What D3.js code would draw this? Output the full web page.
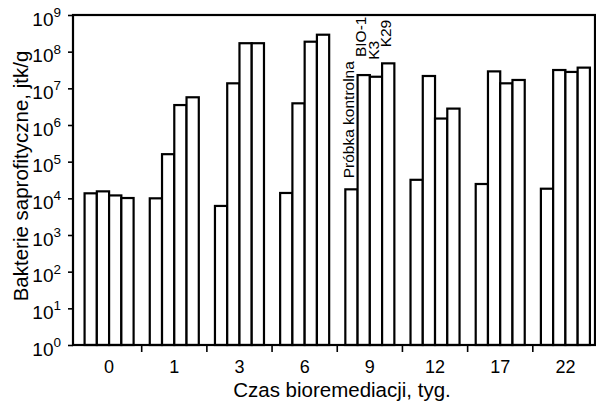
<!DOCTYPE html>
<html>
<head>
<meta charset="utf-8">
<script src="https://cdn.jsdelivr.net/npm/d3@7.9.0/dist/d3.min.js"></script>
<style>
  body { margin: 0; background: #fff; }
  svg { display: block; font-family: "Liberation Sans", Arial, sans-serif; }
  .axis path { display: none; }
  .axis line { stroke: #000; stroke-width: 1.6; }
  .axis text { fill: #000; }
</style>
</head>
<body>
<svg id="chart" width="596" height="406"></svg>
<script>
// weeks of bioremediation
const weeks = ['0', '1', '3', '6', '9', '12', '17', '22'];
const series = ['Próbka kontrolna', 'BIO-1', 'K3', 'K29'];

// bacteria counts, cfu/g
const kontrolna = [1.37e4, 1.0e4, 6.2e3, 1.4e4, 1.76e4, 3.2e4, 2.46e4, 1.83e4];
const bio1      = [1.55e4, 1.6e5, 1.37e7, 3.9e6, 2.3e7, 2.17e7, 2.9e7, 3.16e7];
const k3        = [1.2e4, 3.5e6, 1.7e8, 1.87e8, 2.07e7, 1.5e6, 1.37e7, 2.8e7];
const k29       = [1.02e4, 5.7e6, 1.7e8, 2.9e8, 4.8e7, 2.8e6, 1.69e7, 3.67e7];

const yTicks = [1, 1e1, 1e2, 1e3, 1e4, 1e5, 1e6, 1e7, 1e8, 1e9];
const labelWeek = '9'; // group where series names are written

const seriesValues = [kontrolna, bio1, k3, k29];
const rows = weeks.map((w, i) => ({
  week: w,
  values: series.map((s, j) => ({ key: s, value: seriesValues[j][i] }))
}));

const m = { left: 73, right: 595, top: 15, bottom: 345 };
const svg = d3.select('#chart');

// groups sit a little to the right of the frame in the original
const x0 = d3.scaleBand().domain(weeks).range([76.5, 598]).padding(0);
const gap = x0.bandwidth() * 0.124;
const x1 = d3.scaleBand().domain(series).range([gap, x0.bandwidth() - gap]).padding(0);
const y = d3.scaleLog().domain([1, 1e9]).range([m.bottom, m.top]);

// bars
const groups = svg.selectAll('g.group')
  .data(rows)
  .join('g')
  .attr('class', 'group')
  .attr('transform', d => `translate(${x0(d.week)},0)`);

groups.selectAll('rect')
  .data(d => d.values)
  .join('rect')
  .attr('x', d => x1(d.key))
  .attr('y', d => y(d.value))
  .attr('width', x1.bandwidth())
  .attr('height', d => m.bottom - y(d.value))
  .attr('fill', '#fff')
  .attr('stroke', '#000')
  .attr('stroke-width', 2.2);

// series names over the week-9 group
const offsets = [11, 18, 17, 16];
const labelRow = rows.find(r => r.week === labelWeek);
svg.selectAll('text.series')
  .data(labelRow.values)
  .join('text')
  .attr('class', 'series')
  .attr('font-size', 15.5)
  .attr('transform', (d, i) => {
    const tx = x0(labelWeek) + x1(d.key) + x1.bandwidth() - 3.5;
    const ty = y(d.value) - offsets[i];
    return `translate(${tx},${ty}) rotate(-90)`;
  })
  .text(d => d.key);

// y axis
const yAxis = svg.append('g')
  .attr('class', 'axis')
  .attr('transform', `translate(${m.left},0)`)
  .call(d3.axisLeft(y).tickValues(yTicks).tickSize(5).tickPadding(7).tickFormat(''));

yAxis.selectAll('.tick text').each(function(d) {
  const t = d3.select(this)
    .attr('text-anchor', 'end')
    .attr('dy', null)
    .attr('y', 10)
    .attr('font-size', 19);
  t.append('tspan').text('10');
  t.append('tspan')
    .attr('font-size', 13.5)
    .attr('dy', -8.5)
    .text(Math.round(Math.log10(d)));
});

// x axis: labels at group centres, ticks at group boundaries
const xAxis = svg.append('g')
  .attr('class', 'axis')
  .attr('transform', `translate(0,${m.bottom})`)
  .call(d3.axisBottom(x0).tickSize(0).tickPadding(15));
xAxis.selectAll('.tick text').attr('font-size', 18).attr('dy', '0.71em');

svg.append('g')
  .selectAll('line')
  .data(weeks.slice(1))
  .join('line')
  .attr('x1', d => x0(d)).attr('x2', d => x0(d))
  .attr('y1', m.bottom).attr('y2', m.bottom + 7)
  .attr('stroke', '#000').attr('stroke-width', 1.6);

// frame
svg.append('rect')
  .attr('x', m.left).attr('y', m.top)
  .attr('width', m.right - m.left).attr('height', m.bottom - m.top)
  .attr('fill', 'none').attr('stroke', '#000').attr('stroke-width', 2.2);

// axis titles
svg.append('text')
  .attr('x', 342)
  .attr('y', 397)
  .attr('text-anchor', 'middle')
  .attr('font-size', 20.5)
  .text('Czas bioremediacji, tyg.');

svg.append('text')
  .attr('transform', 'translate(28,176) rotate(-90)')
  .attr('text-anchor', 'middle')
  .attr('font-size', 20.5)
  .text('Bakterie saprofityczne, jtk/g');
</script>
</body>
</html>
